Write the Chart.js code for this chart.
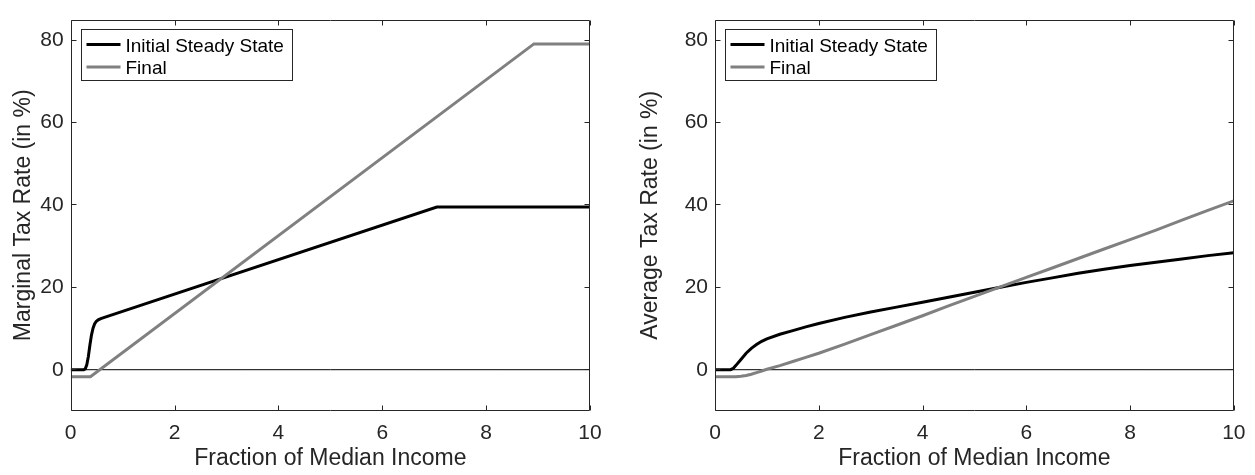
<!DOCTYPE html>
<html>
<head>
<meta charset="utf-8">
<title>Marginal and Average Tax Rates</title>
<script src="https://cdn.jsdelivr.net/npm/chart.js@4.4.1/dist/chart.umd.min.js"></script>
<style>
  html, body { margin: 0; padding: 0; background: #ffffff; }
  #wrap { position: relative; width: 1255px; height: 475px; overflow: hidden; }
  .panel { position: absolute; top: 0; height: 475px; }
  #leftPanel { left: 0; width: 627px; }
  #rightPanel { left: 627px; width: 628px; }
</style>
</head>
<body>
<div id="wrap">
  <div class="panel" id="leftPanel"><canvas id="marginalChart" width="627" height="475"></canvas></div>
  <div class="panel" id="rightPanel"><canvas id="averageChart" width="628" height="475"></canvas></div>
</div>
<script>
// ---- axis ticks and labels ----
const xTicks = [0, 2, 4, 6, 8, 10];
const yTicks = [0, 20, 40, 60, 80];
const xRange = [0, 10];
const yRange = [-10, 85];
const seriesLabels = ['Initial Steady State', 'Final'];
const xTitle = 'Fraction of Median Income';
const marginalTitle = 'Marginal Tax Rate (in %)';
const averageTitle = 'Average Tax Rate (in %)';

// ---- marginal tax rate, initial steady state ----
const marginalInitialX = [0, 0.25, 0.28, 0.31, 0.34, 0.37, 0.40, 0.43, 0.46, 0.49, 0.53, 0.58, 0.65, 7.05, 10];
const marginalInitialY = [0, 0, 0.2, 1.2, 3.2, 6.0, 8.4, 10.1, 11.1, 11.7, 12.1, 12.4, 12.7, 39.5, 39.5];

// ---- marginal tax rate, final ----
const marginalFinalX = [0, 0.38, 8.92, 10];
const marginalFinalY = [-1.7, -1.7, 79.1, 79.1];

// ---- average tax rate, initial steady state ----
const averageInitialX = [0, 0.30, 0.35, 0.40, 0.50, 0.60, 0.70, 0.80, 0.90, 1.0, 1.25, 1.5, 1.75, 2.0, 2.5, 3.0, 3.5, 4.0, 4.5, 5.0, 5.5, 6.0, 6.5, 7.0, 7.5, 8.0, 8.5, 9.0, 9.5, 10];
const averageInitialY = [0, 0, 0.3, 1.0, 2.5, 4.0, 5.2, 6.1, 6.9, 7.5, 8.6, 9.5, 10.4, 11.2, 12.7, 14.0, 15.2, 16.4, 17.6, 18.8, 20.0, 21.2, 22.3, 23.4, 24.4, 25.3, 26.1, 26.9, 27.7, 28.4];

// ---- average tax rate, final ----
const averageFinalX = [0, 0.40, 0.50, 0.60, 0.70, 0.80, 0.90, 1.0, 1.25, 1.5, 1.75, 2.0, 2.5, 3.0, 3.5, 4.0, 4.5, 5.0, 5.5, 6.0, 6.5, 7.0, 7.5, 8.0, 8.5, 9.0, 9.5, 10];
const averageFinalY = [-1.7, -1.7, -1.6, -1.4, -1.1, -0.7, -0.3, 0.1, 1.0, 2.0, 3.0, 4.0, 6.2, 8.5, 10.8, 13.1, 15.5, 17.8, 20.1, 22.4, 24.7, 27.0, 29.3, 31.6, 33.9, 36.3, 38.7, 41.0];

// ---- reference line at zero ----
const zeroLineX = [0, 10];
const zeroLineY = [0, 0];

const AXIS_COLOR = '#262626';
const FONT_FAMILY = '"Liberation Sans", Arial, Helvetica, sans-serif';
const INITIAL_COLOR = '#000000';
const FINAL_COLOR = '#808080';

function points(xs, ys) {
  return xs.map((x, i) => ({ x: x, y: ys[i] }));
}

// Box round the plot with inward tick marks on all four sides.
const axesBox = {
  id: 'axesBox',
  afterDatasetsDraw(chart) {
    const { ctx, chartArea: a, scales } = chart;
    const L = Math.round(a.left) + 0.5, R = Math.round(a.right) - 0.5;
    const T = Math.round(a.top) + 0.5, B = Math.round(a.bottom) - 0.5;
    const len = 5;
    ctx.save();
    ctx.strokeStyle = AXIS_COLOR;
    ctx.lineWidth = 1;
    ctx.beginPath();
    ctx.rect(L, T, R - L, B - T);
    xTicks.forEach(v => {
      const px = Math.round(scales.x.getPixelForValue(v)) + 0.5;
      ctx.moveTo(px, B); ctx.lineTo(px, B - len);
      ctx.moveTo(px, T); ctx.lineTo(px, T + len);
    });
    yTicks.forEach(v => {
      const py = Math.floor(scales.y.getPixelForValue(v)) + 0.5;
      ctx.moveTo(L, py); ctx.lineTo(L + len, py);
      ctx.moveTo(R, py); ctx.lineTo(R - len, py);
    });
    ctx.stroke();
    ctx.restore();
  }
};

// Boxed legend in the upper-left corner of the plot.
const boxedLegend = {
  id: 'boxedLegend',
  afterDraw(chart) {
    const { ctx, chartArea: a } = chart;
    const left = Math.round(a.left + 10) + 0.5;
    const top = Math.round(a.top + 9.3) + 0.5;
    const w = 211, h = 51;
    ctx.save();
    ctx.fillStyle = '#ffffff';
    ctx.fillRect(left, top, w, h);
    ctx.strokeStyle = AXIS_COLOR;
    ctx.lineWidth = 1;
    ctx.strokeRect(left, top, w, h);
    ctx.font = '19px ' + FONT_FAMILY;
    ctx.textBaseline = 'alphabetic';
    ctx.textAlign = 'left';
    seriesLabels.forEach((label, i) => {
      const d = chart.data.datasets.find(ds => ds.label === label);
      const base = top + 22 + i * 22.4;
      const lineY = base - 7;
      ctx.strokeStyle = d.borderColor;
      ctx.lineWidth = d.borderWidth;
      ctx.beginPath();
      ctx.moveTo(left + 5, lineY);
      ctx.lineTo(left + 39, lineY);
      ctx.stroke();
      ctx.fillStyle = '#000000';
      ctx.fillText(label, left + 44, base);
    });
    ctx.restore();
  }
};

function makeChart(canvasId, yTitle, initX, initY, finalX, finalY, yAxisWidth, rightPad) {
  const ctx = document.getElementById(canvasId);
  return new Chart(ctx, {
    type: 'line',
    data: {
      datasets: [
        {
          label: seriesLabels[1],
          data: points(finalX, finalY),
          borderColor: FINAL_COLOR,
          borderWidth: 3,
          pointRadius: 0,
          tension: 0,
          order: 0
        },
        {
          label: seriesLabels[0],
          data: points(initX, initY),
          borderColor: INITIAL_COLOR,
          borderWidth: 3,
          pointRadius: 0,
          tension: 0,
          order: 1
        },
        {
          label: 'zero',
          data: points(zeroLineX, zeroLineY),
          borderColor: '#000000',
          borderWidth: 1,
          pointRadius: 0,
          order: 2
        }
      ]
    },
    options: {
      responsive: false,
      animation: false,
      devicePixelRatio: 1,
      layout: { padding: { left: 0, top: 8, right: rightPad, bottom: 0 } },
      plugins: { legend: { display: false }, tooltip: { enabled: false } },
      scales: {
        x: {
          type: 'linear',
          min: xRange[0],
          max: xRange[1],
          grid: { display: false, drawTicks: false },
          border: { display: false },
          afterBuildTicks: s => { s.ticks = xTicks.map(v => ({ value: v })); },
          afterFit: s => { s.height = 64.1; },
          ticks: {
            padding: 9.5,
            color: AXIS_COLOR,
            font: { family: FONT_FAMILY, size: 21 },
            maxRotation: 0,
            autoSkip: false
          },
          title: {
            display: true,
            text: xTitle,
            color: AXIS_COLOR,
            font: { family: FONT_FAMILY, size: 23 },
            padding: { top: 0, bottom: 2.5 }
          }
        },
        y: {
          type: 'linear',
          min: yRange[0],
          max: yRange[1],
          grid: { display: false, drawTicks: false },
          border: { display: false },
          afterBuildTicks: s => { s.ticks = yTicks.map(v => ({ value: v })); },
          afterFit: s => { s.width = yAxisWidth; },
          ticks: {
            padding: 7,
            color: AXIS_COLOR,
            font: { family: FONT_FAMILY, size: 21 },
            autoSkip: false
          },
          title: {
            display: true,
            text: yTitle,
            color: AXIS_COLOR,
            font: { family: FONT_FAMILY, size: 23 },
            padding: { top: 10, bottom: 0 }
          }
        }
      }
    },
    plugins: [axesBox, boxedLegend]
  });
}

makeChart('marginalChart', marginalTitle, marginalInitialX, marginalInitialY, marginalFinalX, marginalFinalY, 70.7, 37);
makeChart('averageChart', averageTitle, averageInitialX, averageInitialY, averageFinalX, averageFinalY, 88, 20.7);
</script>
</body>
</html>
